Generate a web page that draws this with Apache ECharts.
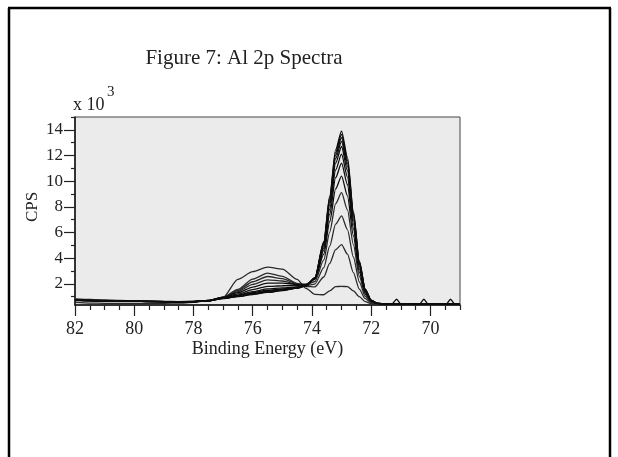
<!DOCTYPE html>
<html>
<head>
<meta charset="utf-8">
<script src="https://cdn.jsdelivr.net/npm/echarts@6/dist/echarts.min.js"></script>
<style>
html,body{margin:0;padding:0;background:#fff;}
#chart{width:618px;height:457px;}
</style>
</head>
<body>
<div id="chart"></div>
<script>
// Binding energy grid (eV)
var energy = [82, 81.5, 81, 80.5, 80, 79.5, 79, 78.5, 78,
  77.5, 77, 76.5, 76, 75.5, 75, 74.5, 74.2, 73.9, 73.6, 73.4, 73.2, 73.0, 72.8, 72.6, 72.4, 72.2, 72.0, 71.8,
  71.5, 71.3, 71.14, 71.0, 70.5, 70.36, 70.22, 70.08, 69.6, 69.46, 69.32, 69.18, 69.0];

// Spectra, CPS x 10^3
var spec1 = [.55,.50,.48,.48,.47,.47,.48,.50,.55,
  .70,.95,2.35,2.95,3.30,3.15,2.35,1.65,1.18,1.15,1.45,1.78,1.80,1.78,1.45,1.00,.62,.46,.42,
  .41,.40,.40,.40,.40,.40,.40,.40,.40,.40,.40,.40,.40];
var spec2 = [.82,.78,.74,.70,.68,.66,.64,.62,.63,
  .66,.97,1.57,2.37,2.84,2.58,2.03,1.79,1.76,2.53,3.59,4.67,5.06,4.31,2.88,1.59,.84,.54,.45,
  .42,.42,.42,.42,.42,.42,.42,.42,.42,.42,.42,.42,.42];
var spec3 = [.78,.75,.70,.68,.66,.64,.63,.61,.63,
  .68,.96,1.48,2.16,2.57,2.40,2.00,1.85,1.98,3.26,4.94,6.65,7.30,6.23,4.09,2.15,1.03,.58,.46,
  .42,.42,.42,.42,.42,.42,.42,.42,.42,.42,.42,.42,.42];
var spec4 = [.75,.72,.69,.67,.65,.64,.62,.61,.63,
  .69,.96,1.39,1.95,2.31,2.22,1.98,1.92,2.18,3.86,6.03,8.24,9.10,7.76,5.06,2.60,1.18,.62,.46,
  .42,.42,.42,.42,.42,.42,.42,.42,.42,.42,.42,.42,.42];
var spec5 = [.72,.70,.67,.66,.64,.63,.62,.60,.62,
  .70,.95,1.31,1.75,2.05,2.05,1.96,1.98,2.34,4.32,6.84,9.40,10.40,8.86,5.75,2.92,1.29,.65,.47,
  .43,.42,.42,.42,.42,.42,.42,.42,.42,.42,.42,.42,.42];
var spec6 = [.74,.69,.68,.65,.65,.62,.61,.61,.62,
  .70,.92,1.21,1.55,1.80,1.85,1.86,1.93,2.38,4.60,7.41,10.27,11.40,9.72,6.29,3.17,1.38,.67,.47,
  .43,.42,.42,.42,.42,.42,.42,.42,.42,.42,.42,.42,.42];
var spec7 = [.70,.71,.66,.66,.63,.63,.60,.60,.62,
  .69,.89,1.12,1.39,1.60,1.69,1.77,1.89,2.40,4.79,7.81,10.87,12.10,10.32,6.67,3.34,1.44,.68,.47,
  .43,.42,.42,.42,.42,.42,.42,.42,.42,.42,.42,.42,.42];
var spec8 = [.73,.68,.67,.64,.64,.62,.61,.59,.61,
  .69,.88,1.08,1.31,1.50,1.61,1.73,1.87,2.43,4.96,8.15,11.40,12.70,10.83,6.99,3.49,1.49,.70,.48,
  .43,.42,.42,.42,.42,.42,.42,.42,.42,.42,.42,.42,.42];
var spec9 = [.71,.70,.66,.65,.63,.63,.60,.60,.61,
  .68,.87,1.05,1.25,1.42,1.55,1.70,1.86,2.44,5.07,8.38,11.75,13.10,11.18,7.21,3.59,1.52,.70,.48,
  .43,.42,.42,.42,.42,.42,.42,.42,.42,.42,.42,.42,.42];
var spec10 = [.74,.69,.67,.65,.64,.61,.61,.59,.61,
  .68,.86,1.03,1.21,1.38,1.51,1.68,1.85,2.46,5.15,8.55,12.01,13.40,11.43,7.37,3.67,1.55,.71,.48,
  .43,.42,.42,.42,.42,.42,.42,.42,.42,.42,.42,.42,.42];
var spec11 = [.72,.70,.66,.64,.63,.62,.60,.60,.61,
  .68,.86,1.02,1.19,1.35,1.49,1.67,1.85,2.47,5.22,8.70,12.22,13.65,11.65,7.50,3.73,1.57,.72,.48,
  .43,.42,.42,.42,.42,.42,.42,.42,.42,.42,.42,.42,.42];
var spec12 = [.75,.71,.68,.66,.64,.63,.61,.60,.62,
  .68,.85,1.01,1.17,1.33,1.47,1.66,1.84,2.48,5.29,8.84,12.44,13.90,11.86,7.64,3.79,1.59,.72,.48,
  .43,.43,.80,.43,.43,.43,.80,.43,.43,.43,.80,.43,.43];

var xMajorTicks = [70, 72, 74, 76, 78, 80, 82];
var xMinorTicks = [69, 69.5, 70.5, 71, 71.5, 72.5, 73, 73.5, 74.5, 75, 75.5, 76.5, 77, 77.5, 78.5, 79, 79.5, 80.5, 81, 81.5];
var yMajorTicks = [2, 4, 6, 8, 10, 12, 14];
var yMinorTicks = [1, 3, 5, 7, 9, 11, 13, 15];

var titleText = 'Figure 7: Al 2p Spectra';
var xName = 'Binding Energy (eV)';
var yName = 'CPS';

var allSpectra = [spec1, spec2, spec3, spec4, spec5, spec6, spec7, spec8, spec9, spec10, spec11, spec12];

var FONT = '"Liberation Serif", "DejaVu Serif", serif';
var TXT = '#222';

var series = allSpectra.map(function (s, i) {
  return {
    type: 'line',
    xAxisIndex: 0, yAxisIndex: 0,
    data: energy.map(function (e, j) { return [e, s[j]]; }),
    showSymbol: false,
    smooth: 0.25,
    smoothMonotone: 'x',
    lineStyle: { color: i < 4 ? '#2a2a2a' : '#0d0d0d', width: 1.3 },
    silent: true,
    z: 3
  };
});

var chart = echarts.init(document.getElementById('chart'), null, { renderer: 'canvas' });
chart.setOption({
  animation: false,
  backgroundColor: '#fff',
  grid: {
    left: 75, right: 158, top: 117, bottom: 152,
    show: true, backgroundColor: '#ebebeb', borderColor: '#444', borderWidth: 1
  },
  xAxis: [{
    type: 'value', min: 69, max: 82, inverse: true, position: 'bottom',
    axisLine: { show: true, onZero: false, lineStyle: { color: '#111', width: 1.5 } },
    axisTick: { show: true, customValues: xMajorTicks, length: 11, lineStyle: { color: '#222', width: 1.2 } },
    axisLabel: { show: true, customValues: xMajorTicks, fontSize: 18, fontFamily: FONT, color: TXT, margin: 15 },
    splitLine: { show: false },
    name: xName, nameLocation: 'middle', nameGap: 35,
    nameTextStyle: { fontSize: 18, fontFamily: FONT, color: TXT }
  }, {
    type: 'value', min: 69, max: 82, inverse: true, position: 'bottom',
    axisLine: { show: false },
    axisTick: { show: true, customValues: xMinorTicks, length: 5, lineStyle: { color: '#222', width: 1.2 } },
    axisLabel: { show: false },
    splitLine: { show: false }
  }],
  yAxis: [{
    type: 'value', min: 0.35, max: 15, position: 'left',
    axisLine: { show: true, onZero: false, lineStyle: { color: '#111', width: 1.5 } },
    axisTick: { show: true, customValues: yMajorTicks, length: 11, lineStyle: { color: '#222', width: 1.2 } },
    axisLabel: { show: true, customValues: yMajorTicks, fontSize: 17, fontFamily: FONT, color: TXT, margin: 12,
      padding: [0, 0, 8, 0] },
    splitLine: { show: false }
  }, {
    type: 'value', min: 0.35, max: 15, position: 'left',
    axisLine: { show: false },
    axisTick: { show: true, customValues: yMinorTicks, length: 4, lineStyle: { color: '#222', width: 1.2 } },
    axisLabel: { show: false },
    splitLine: { show: false }
  }],
  graphic: [
    { type: 'line', shape: { x1: 9, y1: 8, x2: 9, y2: 457 }, style: { stroke: '#000', lineWidth: 2.5 } },
    { type: 'line', shape: { x1: 8, y1: 8, x2: 611, y2: 8 }, style: { stroke: '#000', lineWidth: 2.5 } },
    { type: 'line', shape: { x1: 610, y1: 8, x2: 610, y2: 457 }, style: { stroke: '#000', lineWidth: 2.5 } },
    { type: 'text', x: 244, y: 58, style: { text: titleText, fontSize: 21, fontFamily: FONT, fill: TXT, textAlign: 'center', textVerticalAlign: 'middle' } },
    { type: 'text', x: 73, y: 96, style: { text: 'x 10', fontSize: 18, fontFamily: FONT, fill: TXT, textAlign: 'left', textVerticalAlign: 'top' } },
    { type: 'text', x: 107, y: 85, style: { text: '3', fontSize: 15, fontFamily: FONT, fill: TXT, textAlign: 'left', textVerticalAlign: 'top' } },
    { type: 'text', x: 33, y: 207, rotation: Math.PI / 2, style: { text: yName, fontSize: 17, fontFamily: FONT, fill: TXT, textAlign: 'center', textVerticalAlign: 'middle' } }
  ],
  series: series
});
</script>
</body>
</html>
